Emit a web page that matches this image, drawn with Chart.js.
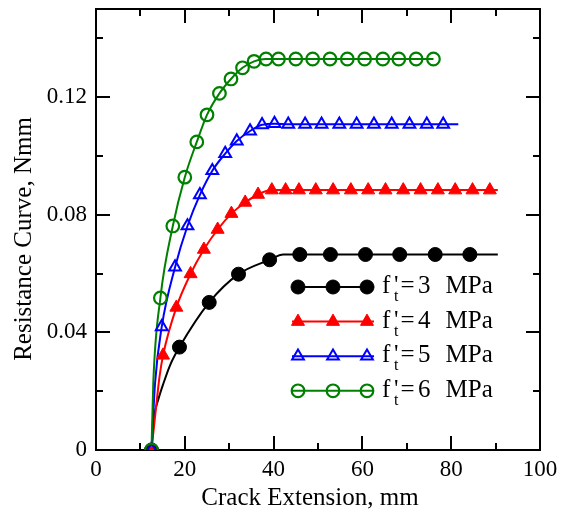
<!DOCTYPE html>
<html>
<head>
<meta charset="utf-8">
<script src="https://cdn.jsdelivr.net/npm/chart.js@4/dist/chart.umd.min.js"></script>
<style>
  html, body { margin: 0; padding: 0; background: #ffffff; }
  #wrap { width: 562px; height: 512px; }
</style>
</head>
<body>
<div id="wrap"><canvas id="c" width="562" height="512"></canvas></div>
<script>
// Tensile strength of each curve (MPa)
const strengths = ['3', '4', '5', '6'];

// Marked points: crack extension (mm) and resistance (N·mm)
const ext3 = [12.5, 18.8, 25.5, 32.1, 39.1, 45.9, 52.8, 60.7, 68.4, 76.4, 84.2];
const res3 = [0, 0.0350, 0.0502, 0.0598, 0.0647, 0.0665, 0.0665, 0.0665, 0.0665, 0.0665, 0.0665];

const ext4 = [12.5, 15.1, 18.1, 21.3, 24.3, 27.4, 30.5, 33.6, 36.5, 39.6, 42.7, 45.7, 49.5,
              53.4, 57.4, 61.3, 65.2, 69.2, 73.1, 77.0, 80.9, 84.8, 88.7];
const res4 = [0, 0.0322, 0.0485, 0.0599, 0.0682, 0.0750, 0.0804, 0.0842, 0.0869, 0.0884, 0.0884, 0.0884, 0.0884,
              0.0884, 0.0884, 0.0884, 0.0884, 0.0884, 0.0884, 0.0884, 0.0884, 0.0884, 0.0884];

const ext5 = [12.5, 14.8, 17.8, 20.6, 23.4, 26.2, 29.1, 31.7, 34.7, 37.4, 40.2, 43.3, 47.1,
              50.8, 54.8, 58.7, 62.6, 66.6, 70.6, 74.5, 78.2];
const res5 = [0, 0.0419, 0.0622, 0.0762, 0.0868, 0.0950, 0.1008, 0.1051, 0.1085, 0.1106, 0.1110, 0.1108, 0.1108,
              0.1108, 0.1108, 0.1108, 0.1108, 0.1108, 0.1108, 0.1108, 0.1108];

const ext6 = [12.5, 14.5, 17.3, 20.0, 22.7, 25.0, 27.8, 30.4, 33.0, 35.6, 38.3, 41.1, 45.0,
              48.8, 52.7, 56.6, 60.5, 64.6, 68.2, 72.1, 76.0];
const res6 = [0, 0.0517, 0.0762, 0.0928, 0.1048, 0.1140, 0.1213, 0.1262, 0.1300, 0.1322, 0.1330, 0.1330, 0.1330,
              0.1330, 0.1330, 0.1330, 0.1330, 0.1330, 0.1330, 0.1330, 0.1330];

// Extra unmarked points along each continuous curve
const curveExt3 = [13.1, 14.0, 15.2, 16.7, 42.2, 90.5];
const curveRes3 = [0.0113, 0.0170, 0.0227, 0.0289, 0.0665, 0.0665];
const curveExt4 = [13.7, 14.3, 90.5];
const curveRes4 = [0.0170, 0.0249, 0.0884];
const curveExt5 = [13.3, 81.6];
const curveRes5 = [0.0227, 0.1108];
const curveExt6 = [12.9];
const curveRes6 = [0.0227];

// Axis ticks
const xTickValues = [0, 20, 40, 60, 80, 100];
const yTickValues = [0, 0.04, 0.08, 0.12];

const xTitle = 'Crack Extension, mm';
const yTitle = 'Resistance Curve, Nmm';

const SERIF = '"Liberation Serif", "Times New Roman", serif';

function toPoints(xs, ys) { return xs.map((v, i) => ({ x: v, y: ys[i] })); }
function curvePoints(xs, ys, cx, cy) {
  return toPoints(xs, ys).concat(toPoints(cx, cy)).sort((a, b) => a.x - b.x);
}

const styles = [
  { color: '#000000', shape: 'circle',   radius: 7,   fill: '#000000',       bw: 1 },
  { color: '#ff0000', shape: 'triangle', radius: 7.5, fill: '#ff0000',       bw: 1 },
  { color: '#0000ff', shape: 'triangle', radius: 6.8, fill: 'rgba(0,0,0,0)', bw: 2 },
  { color: '#008000', shape: 'circle',   radius: 6.3, fill: 'rgba(0,0,0,0)', bw: 2.2 }
];

const marks = [toPoints(ext3, res3), toPoints(ext4, res4), toPoints(ext5, res5), toPoints(ext6, res6)];
const curves = [
  curvePoints(ext3, res3, curveExt3, curveRes3),
  curvePoints(ext4, res4, curveExt4, curveRes4),
  curvePoints(ext5, res5, curveExt5, curveRes5),
  curvePoints(ext6, res6, curveExt6, curveRes6)
];

const datasets = [];
curves.forEach((pts, i) => {
  datasets.push({
    label: 'curve ' + strengths[i],
    data: pts,
    borderColor: styles[i].color,
    borderWidth: 2,
    pointRadius: 0,
    pointHoverRadius: 0,
    fill: false,
    cubicInterpolationMode: 'monotone',
    order: 10 - i
  });
});
marks.forEach((pts, i) => {
  datasets.push({
    label: "f't = " + strengths[i] + ' MPa',
    data: pts,
    showLine: false,
    pointStyle: styles[i].shape,
    pointRadius: styles[i].radius,
    pointHoverRadius: styles[i].radius,
    pointBackgroundColor: styles[i].fill,
    pointBorderColor: styles[i].color,
    pointBorderWidth: styles[i].bw,
    order: 4 - i
  });
});

// Boxed frame with inward major/minor ticks on all four sides
const frameTicks = {
  id: 'frameTicks',
  beforeDatasetsDraw(chart) {
    const { ctx, chartArea: a, scales: { x, y } } = chart;
    ctx.save();
    ctx.strokeStyle = '#000';
    ctx.lineWidth = 2;
    ctx.beginPath();
    for (let k = 1; k < 10; k++) {
      const px = Math.round(x.getPixelForValue(k * 10));
      const len = (k % 2 === 0) ? 14 : 7;
      ctx.moveTo(px, a.bottom); ctx.lineTo(px, a.bottom - len);
      ctx.moveTo(px, a.top);    ctx.lineTo(px, a.top + len);
    }
    for (let k = 1; k <= 7; k++) {
      const py = Math.round(y.getPixelForValue(k * 0.02));
      const len = (k % 2 === 0) ? 14 : 7;
      ctx.moveTo(a.left, py);  ctx.lineTo(a.left + len, py);
      ctx.moveTo(a.right, py); ctx.lineTo(a.right - len, py);
    }
    ctx.stroke();
    ctx.strokeRect(Math.round(a.left), Math.round(a.top),
                   Math.round(a.right) - Math.round(a.left), Math.round(a.bottom) - Math.round(a.top));
    ctx.restore();
  }
};

// Axis titles
const axisTitles = {
  id: 'axisTitles',
  afterDraw(chart) {
    const ctx = chart.ctx;
    ctx.save();
    ctx.fillStyle = '#000';
    ctx.font = '25px ' + SERIF;
    ctx.textAlign = 'center';
    ctx.textBaseline = 'alphabetic';
    ctx.fillText(xTitle, 310, 505);
    ctx.translate(31, 239);
    ctx.rotate(-Math.PI / 2);
    ctx.fillText(yTitle, 0, 0);
    ctx.restore();
  }
};

function drawMarker(ctx, st, x, y) {
  ctx.beginPath();
  if (st.shape === 'circle') {
    ctx.arc(x, y, st.radius, 0, Math.PI * 2);
  } else {
    let rad = 0;
    const r = st.radius;
    ctx.moveTo(x + Math.sin(rad) * r, y - Math.cos(rad) * r);
    rad += 2 * Math.PI / 3;
    ctx.lineTo(x + Math.sin(rad) * r, y - Math.cos(rad) * r);
    rad += 2 * Math.PI / 3;
    ctx.lineTo(x + Math.sin(rad) * r, y - Math.cos(rad) * r);
    ctx.closePath();
  }
  ctx.fillStyle = st.fill;
  ctx.fill();
  ctx.lineWidth = st.bw;
  ctx.strokeStyle = st.color;
  ctx.stroke();
}

// Legend: a short line with three markers, then the label with a subscript t
const legendBox = {
  id: 'legendBox',
  afterDraw(chart) {
    const ctx = chart.ctx;
    ctx.save();
    strengths.forEach((s, i) => {
      const st = styles[i];
      const yy = 287 + i * 34.6;
      ctx.beginPath();
      ctx.moveTo(292, yy); ctx.lineTo(374, yy);
      ctx.strokeStyle = st.color; ctx.lineWidth = 2; ctx.stroke();
      [298, 333, 367].forEach(px => drawMarker(ctx, st, px, yy));
      const base = yy + 6;
      ctx.fillStyle = '#000';
      ctx.textBaseline = 'alphabetic';
      ctx.textAlign = 'left';
      ctx.font = '25px ' + SERIF;
      ctx.fillText('f', 382, base);
      ctx.fillText("'", 394, base);
      ctx.fillText('=', 400.5, base);
      ctx.fillText(s, 418, base);
      ctx.fillText('MPa', 445.5, base);
      ctx.font = '16px ' + SERIF;
      ctx.fillText('t', 394, base + 8);
    });
    ctx.restore();
  }
};

new Chart(document.getElementById('c'), {
  type: 'line',
  data: { datasets },
  options: {
    responsive: false,
    animation: false,
    devicePixelRatio: 1,
    layout: { padding: { left: 0, right: 22, top: 9, bottom: 0 } },
    plugins: { legend: { display: false }, tooltip: { enabled: false } },
    scales: {
      x: {
        type: 'linear',
        min: 0, max: 100,
        afterBuildTicks: s => { s.ticks = xTickValues.map(v => ({ value: v })); },
        afterFit: s => { s.height = 62; s.paddingLeft = 0; s.paddingRight = 0; },
        grid: { display: false, drawTicks: false },
        border: { display: false },
        ticks: { color: '#000', font: { family: SERIF, size: 23 }, padding: 6, maxRotation: 0,
                 callback: v => String(v) },
        title: { display: false }
      },
      y: {
        type: 'linear',
        min: 0, max: 0.15,
        afterBuildTicks: s => { s.ticks = yTickValues.map(v => ({ value: v })); },
        afterFit: s => { s.width = 96; s.paddingTop = 0; s.paddingBottom = 0; },
        grid: { display: false, drawTicks: false },
        border: { display: false },
        ticks: { color: '#000', font: { family: SERIF, size: 23 }, padding: 9,
                 callback: v => (v === 0 ? '0' : v.toFixed(2)) },
        title: { display: false }
      }
    }
  },
  plugins: [frameTicks, axisTitles, legendBox]
});
</script>
</body>
</html>
